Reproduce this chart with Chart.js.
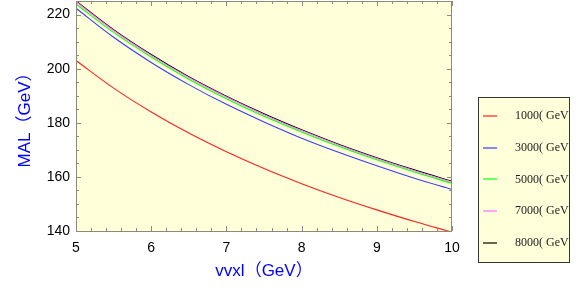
<!DOCTYPE html>
<html>
<head>
<meta charset="utf-8">
<script src="https://cdn.jsdelivr.net/npm/chart.js@4"></script>
<style>
  html, body { margin: 0; padding: 0; background: #fff; }
  #wrap { width: 581px; height: 300px; }
</style>
</head>
<body>
<div id="wrap"><canvas id="chart" width="581" height="300"></canvas></div>
<script>
// values
const xValues = [5, 5.5, 6, 6.5, 7, 7.5, 8, 8.5, 9, 9.5, 10];
const seriesLabels = ['1000( GeV)', '3000( GeV)', '5000( GeV)', '7000( GeV)', '8000( GeV)'];
const seriesColors = ['#ff2020', '#3a3aff', '#10ff10', '#ff70ff', '#000000'];
const mal1000 = [203.0, 192.8, 184.0, 176.2, 169.3, 163.1, 157.5, 152.4, 147.8, 143.5, 139.6];
const mal3000 = [222.3, 211.6, 202.3, 194.1, 186.8, 180.3, 174.3, 169.0, 164.1, 159.5, 155.4];
const mal5000 = [223.9, 213.4, 204.3, 196.1, 188.9, 182.4, 176.6, 171.2, 166.3, 161.8, 157.6];
const mal7000 = [224.7, 214.1, 204.9, 196.7, 189.5, 183.0, 177.1, 171.7, 166.8, 162.3, 158.1];
const mal8000 = [225.0, 214.4, 205.2, 197.0, 189.8, 183.3, 177.4, 172.0, 167.1, 162.6, 158.4];
const yTicks = [140, 160, 180, 200, 220];
const xTicks = [5, 6, 7, 8, 9, 10];

const allSeries = [mal1000, mal3000, mal5000, mal7000, mal8000];
const sansFont = '"Liberation Sans", Arial, "Noto Sans CJK SC", sans-serif';

// inward ticks and frame, Mathematica style
const framePlugin = {
  id: 'frame',
  beforeDraw(chart) {
    const { ctx, chartArea: a } = chart;
    ctx.save();
    ctx.fillStyle = '#ffffda';
    ctx.fillRect(a.left, a.top, a.right - a.left, a.bottom - a.top);
    ctx.restore();
  },
  afterDraw(chart) {
    const { ctx, chartArea: a, scales } = chart;
    ctx.save();
    ctx.strokeStyle = '#8a8a80';
    ctx.lineWidth = 1;
    ctx.strokeRect(a.left + 0.5, a.top + 0.5, a.right - a.left - 1, a.bottom - a.top);
    ctx.beginPath();
    for (let i = 0; i <= 25; i++) {
      const v = 5 + i * 0.2;
      const px = Math.round(scales.x.getPixelForValue(v)) + 0.5;
      const len = Math.abs(v - Math.round(v)) < 1e-6 ? 5 : 3;
      ctx.moveTo(px, a.bottom); ctx.lineTo(px, a.bottom - len);
      ctx.moveTo(px, a.top); ctx.lineTo(px, a.top + len);
    }
    for (let v = 140; v <= 225; v += 5) {
      const py = Math.round(scales.y.getPixelForValue(v)) + 0.5;
      const len = v % 20 === 0 ? 5 : 3;
      ctx.moveTo(a.left, py); ctx.lineTo(a.left + len, py);
      ctx.moveTo(a.right, py); ctx.lineTo(a.right - len, py);
    }
    ctx.stroke();
    ctx.restore();
  }
};

const legendPlugin = {
  id: 'boxLegend',
  afterDraw(chart) {
    const ctx = chart.ctx;
    const bx = 478, by = 97, bw = 91, bh = 165;
    ctx.save();
    ctx.fillStyle = '#ffffda';
    ctx.fillRect(bx, by, bw, bh);
    ctx.strokeStyle = '#333';
    ctx.lineWidth = 1;
    ctx.strokeRect(bx + 0.5, by + 0.5, bw, bh);
    ctx.beginPath();
    ctx.rect(bx, by, bw, bh);
    ctx.clip();
    ctx.font = '12px "Liberation Serif", "Times New Roman", serif';
    ctx.textBaseline = 'middle';
    chart.data.datasets.forEach((ds, i) => {
      const y = 116 + i * 31.7;
      ctx.strokeStyle = ds.borderColor;
      ctx.lineWidth = 1.2;
      ctx.beginPath();
      ctx.moveTo(483, Math.round(y));
      ctx.lineTo(497, Math.round(y));
      ctx.stroke();
      ctx.fillStyle = '#222';
      ctx.fillText(ds.label, 515, y);
    });
    ctx.restore();
  }
};

new Chart(document.getElementById('chart'), {
  type: 'line',
  data: {
    datasets: allSeries.map((s, i) => ({
      label: seriesLabels[i],
      data: s.map((y, j) => ({ x: xValues[j], y: y })),
      borderColor: seriesColors[i],
      borderWidth: 1.1,
      pointRadius: 0,
      cubicInterpolationMode: 'monotone',
      fill: false
    }))
  },
  options: {
    responsive: false,
    animation: false,
    layout: { padding: { top: 1, right: 129, left: 0, bottom: 0 } },
    plugins: { legend: { display: false }, tooltip: { enabled: false } },
    scales: {
      x: {
        type: 'linear',
        min: 5,
        max: 10,
        afterFit: (scale) => {
          scale.height = 69;
          scale.paddingLeft = 0;
          scale.paddingRight = 0;
        },
        afterBuildTicks: (scale) => { scale.ticks = xTicks.map(v => ({ value: v })); },
        grid: { display: false, drawTicks: false },
        border: { display: false },
        ticks: {
          padding: 9,
          color: '#000',
          font: { family: sansFont, size: 14 }
        },
        title: {
          display: true,
          text: 'vvxl（GeV）',
          color: '#0000ff',
          padding: { top: 0, bottom: 18 },
          font: { family: sansFont, size: 17 }
        }
      },
      y: {
        type: 'linear',
        min: 140,
        max: 225,
        afterFit: (scale) => {
          scale.width = 76;
          scale.paddingTop = 0;
          scale.paddingBottom = 0;
        },
        afterBuildTicks: (scale) => { scale.ticks = yTicks.map(v => ({ value: v })); },
        grid: { display: false, drawTicks: false },
        border: { display: false },
        ticks: {
          padding: 6,
          color: '#000',
          font: { family: sansFont, size: 14 }
        },
        title: {
          display: true,
          text: 'MAL（GeV）',
          color: '#0000ff',
          padding: { top: 15, bottom: 0 },
          font: { family: sansFont, size: 17 }
        }
      }
    }
  },
  plugins: [framePlugin, legendPlugin]
});
</script>
</body>
</html>
